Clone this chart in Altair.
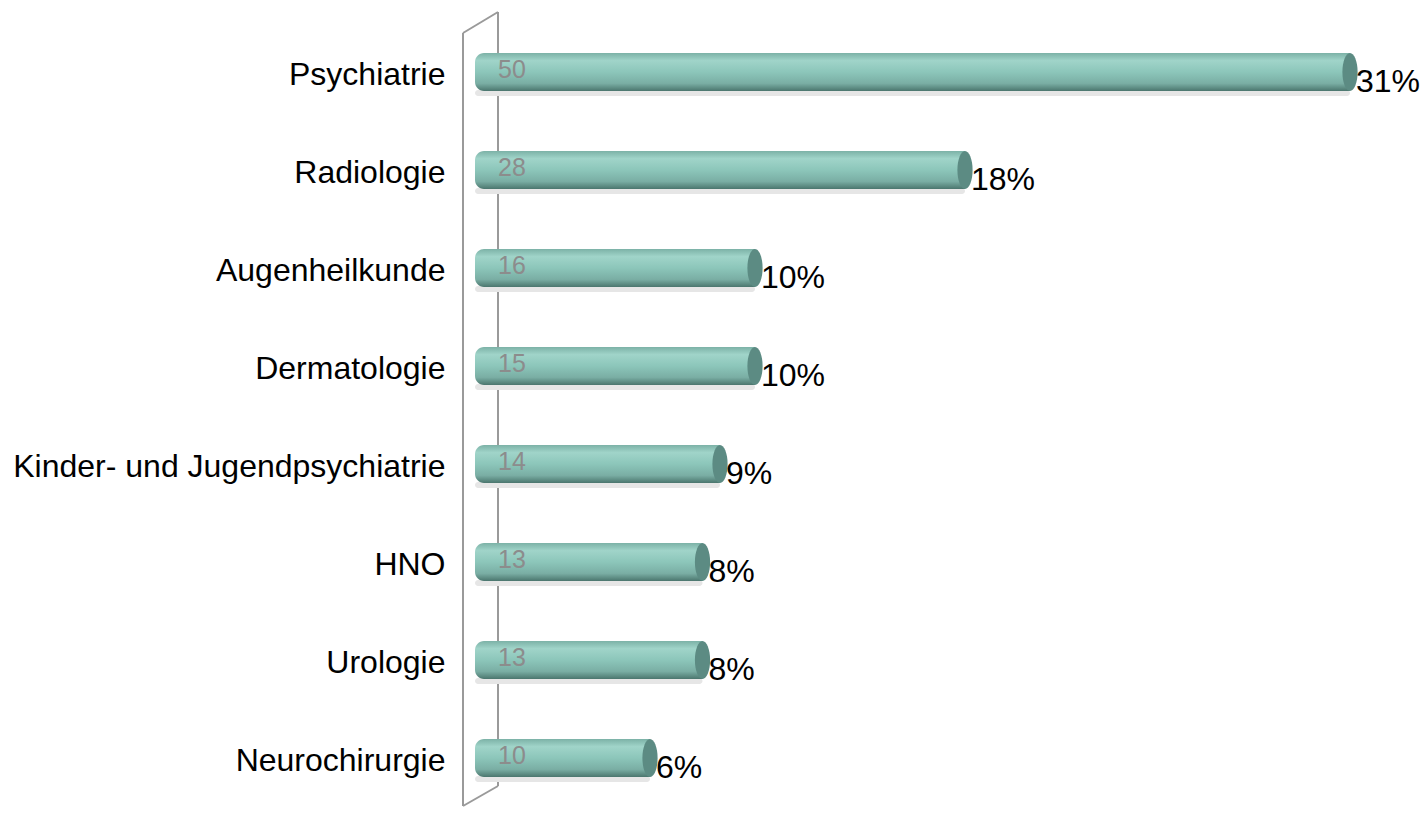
import altair as alt
import pandas as pd

categories = ["Psychiatrie", "Radiologie", "Augenheilkunde", "Dermatologie",
              "Kinder- und Jugendpsychiatrie", "HNO", "Urologie", "Neurochirurgie"]
counts = [50, 28, 16, 15, 14, 13, 13, 10]
# bar lengths as drawn in the picture
bar_lengths = [50, 28, 16, 16, 14, 13, 13, 10]
percent_labels = ["31%", "18%", "10%", "10%", "9%", "8%", "8%", "6%"]

df = pd.DataFrame({
    "cat": categories,
    "count": counts,
    "len": bar_lengths,
    "pct": percent_labels,
    "base": [0] * len(categories),
})

FONT = "Liberation Sans"
W, H = 957, 784

xscale = alt.Scale(domain=[-0.686, 54.0], zero=False, nice=False)
yscale = alt.Scale(domain=categories, paddingInner=0.6, paddingOuter=0.3)

yaxis = alt.Axis(title=None, domain=False, ticks=False,
                 labelFont=FONT, labelFontSize=32, labelColor="#000000",
                 labelPadding=18, labelBaseline="alphabetic", labelOffset=13,
                 labelLimit=600)
y_enc = alt.Y("cat:N", scale=yscale, axis=yaxis)

wall_df = pd.DataFrame({"a": [1]})
wall_color = "#9a9a9a"
wbase = alt.Chart(wall_df)
w1 = wbase.mark_rule(color=wall_color, strokeWidth=2).encode(
    x=alt.value(0), y=alt.value(10), y2=alt.value(783))
w2 = wbase.mark_rule(color=wall_color, strokeWidth=2).encode(
    x=alt.value(35), y=alt.value(-11), y2=alt.value(763))
w3 = wbase.mark_rule(color=wall_color, strokeWidth=2).encode(
    x=alt.value(0), y=alt.value(10), x2=alt.value(35), y2=alt.value(-11))
w4 = wbase.mark_rule(color=wall_color, strokeWidth=2).encode(
    x=alt.value(0), y=alt.value(783), x2=alt.value(35), y2=alt.value(763))

grad = {
    "gradient": "linear", "x1": 0, "x2": 0, "y1": 0, "y2": 1,
    "stops": [
        {"color": "#7cb2a7", "offset": 0.0},
        {"color": "#a0d4c9", "offset": 0.2},
        {"color": "#8cc6ba", "offset": 0.5},
        {"color": "#7aaea4", "offset": 0.8},
        {"color": "#4b766e", "offset": 1.0},
    ],
}

base = alt.Chart(df)
x_len = alt.X("len:Q", scale=xscale, axis=None)
x_base = alt.X("base:Q", scale=xscale, axis=None)

shadow = base.mark_bar(size=6, color="#e6e6e6", cornerRadius=3, yOffset=21).encode(
    x=x_len,
    x2="base:Q",
    y=y_enc,
)

bars = base.mark_bar(size=38, fill=grad, cornerRadiusTopLeft=9,
                     cornerRadiusBottomLeft=9).encode(
    x=x_len,
    x2="base:Q",
    y=y_enc,
)

a = 0.4
k = 0.5523
ak = a * k
ellipse = (f"M0,-1 C{ak:.4f},-1 {a},-{k} {a},0 C{a},{k} {ak:.4f},1 0,1 "
           f"C-{ak:.4f},1 -{a},{k} -{a},0 C-{a},-{k} -{ak:.4f},-1 0,-1 Z")
caps = base.mark_point(shape=ellipse, size=1444, filled=True, opacity=1,
                       color="#5c8b83", strokeWidth=0).encode(
    x=x_len,
    y=y_enc,
)

count_text = base.mark_text(align="left", baseline="alphabetic", dx=23, dy=6,
                            font=FONT, fontSize=25, color="#8c8c8c").encode(
    x=x_base,
    y=y_enc,
    text="count:Q",
)

pct_text = base.mark_text(align="left", baseline="alphabetic", dx=6, dy=20,
                          font=FONT, fontSize=32, color="#000000").encode(
    x=x_len,
    y=y_enc,
    text="pct:N",
)

chart = alt.layer(w1, w2, w3, w4, shadow, bars, caps, count_text, pct_text).properties(
    width=W, height=H,
    autosize=alt.AutoSizeParams(type="none"),
    padding={"left": 455, "top": 15, "right": 0, "bottom": 0},
).configure_view(stroke=None)

chart.save("out.html", embed_options={"renderer": "svg", "actions": False})
